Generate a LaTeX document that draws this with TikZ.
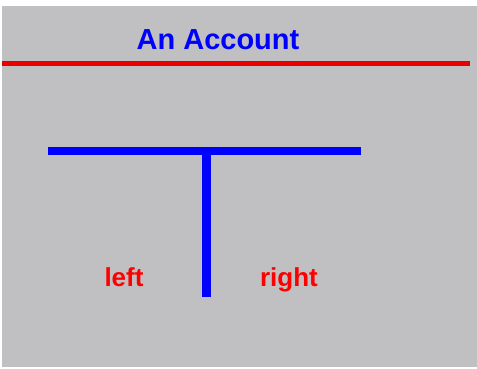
\documentclass[tikz,border=0pt]{standalone}
\usepackage{fontspec}
\setmainfont{Liberation Sans}
\definecolor{bggray}{RGB}{192,192,194}
\definecolor{tblue}{RGB}{0,0,255}
\definecolor{tred}{RGB}{255,0,0}
\definecolor{lred}{RGB}{230,0,0}
\begin{document}
\begin{tikzpicture}[x=1pt,y=1pt,
  titletext/.style={font=\fontsize{29}{34}\selectfont\bfseries, text=tblue, inner sep=0pt, anchor=base},
  sidetext/.style={font=\fontsize{26}{30}\selectfont\bfseries, text=tred, inner sep=0pt, anchor=base},
  tbar/.style={draw=tblue, line width=8.5pt},
  rule/.style={draw=lred, line width=4.5pt}]
\useasboundingbox (0,0) rectangle (477,368);
\fill[white] (0,0) rectangle (477,368);
\fill[bggray] (2,1) rectangle (477,362);
\node[titletext] (title) at (218,319) {An Account};
\coordinate (rl) at (2,304.7);
\coordinate (rr) at (470,304.7);
\draw[rule] (rl) -- (rr);
\coordinate (hl) at (48.3,217);
\coordinate (hr) at (360.7,217);
\coordinate (vt) at (206.4,217);
\coordinate (vb) at (206.4,71.3);
\draw[tbar] (hl) -- (hr);
\draw[tbar] (vt) -- (vb);
\node[sidetext] (left) at (124,81.5) {left};
\node[sidetext] (right) at (289,81.5) {right};
\end{tikzpicture}
\end{document}
